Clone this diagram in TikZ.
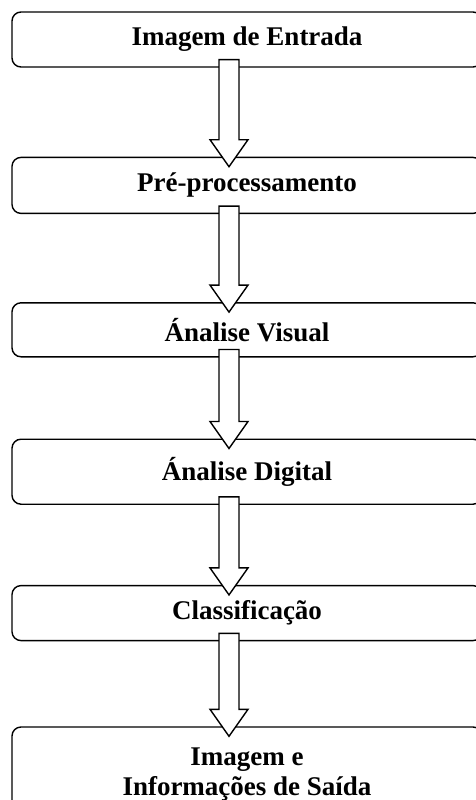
\documentclass[tikz,border=0pt]{standalone}
\usepackage{fontspec}
\setmainfont{Liberation Serif}
\usetikzlibrary{positioning,calc}

\begin{document}
\begin{tikzpicture}[x=1pt, y=-1pt,
    stage/.style={rectangle, draw, rounded corners=9pt, line width=1.4pt, minimum width=470pt, minimum height=55pt, inner sep=0pt, align=center, font=\fontsize{27}{30}\selectfont\bfseries},
    flow/.style={draw, fill=white, line width=1.4pt, line join=miter}]

    \useasboundingbox (0,0) rectangle (476,800);
    \clip (0,0) rectangle (476,800);

    \node [stage] (entrada) at (247,39.5) {Imagem de Entrada};
    \node [stage, below=89pt of entrada, minimum height=56pt] (pre) {Pré-processamento};
    \node [stage, below=88pt of pre, minimum height=54pt] (visual) {Ánalise Visual};
    \node [stage, below=81pt of visual, minimum height=65pt] (digital) {Ánalise Digital};
    \node [stage, below=80pt of digital] (classif) {Classificação};
    \node [stage, below=85pt of classif, minimum height=95pt] (saida) {Imagem e\\Informações de Saída};

    % block arrows between the stages
    \foreach \a/\b in {entrada/pre, pre/visual, visual/digital, digital/classif, classif/saida}
        \draw [flow] let \p1=($(\a.south)+(-18,-8)$), \p2=($(\b.north)+(-18,10)$) in
            (\x1-10pt,\y1) -- (\x1+10pt,\y1) -- (\x1+10pt,\y2+27pt) -- (\x1+19pt,\y2+27pt)
            -- (\x2,\y2) -- (\x1-19pt,\y2+27pt) -- (\x1-10pt,\y2+27pt) -- cycle;
\end{tikzpicture}
\end{document}
